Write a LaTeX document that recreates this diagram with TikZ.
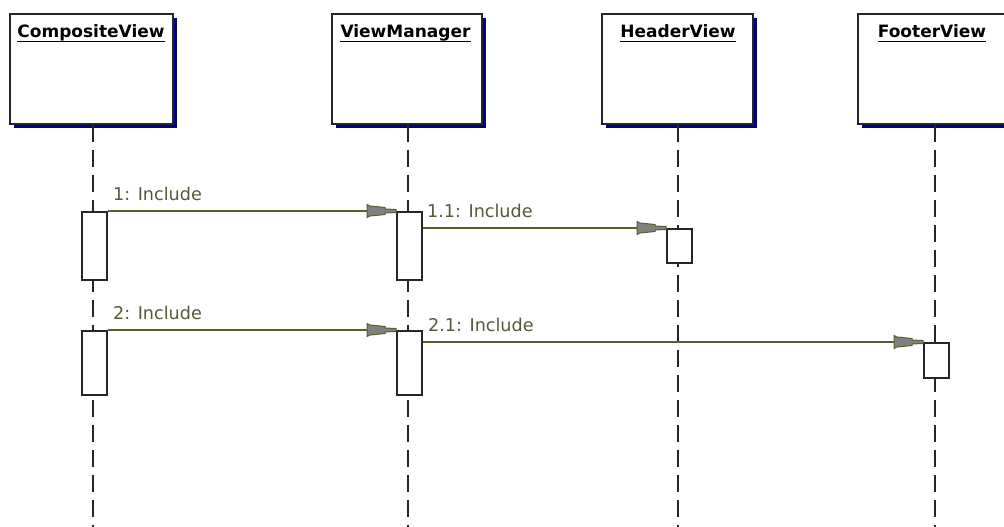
\documentclass[tikz,border=0pt]{standalone}
\usepackage{fontspec}
\setmainfont{DejaVu Sans}
\usetikzlibrary{calc}
\definecolor{msgline}{RGB}{92,92,48}
\definecolor{msgtext}{RGB}{88,88,56}
\definecolor{shadowc}{RGB}{0,0,128}
\definecolor{headfill}{RGB}{128,128,128}
\tikzset{
  objbox/.style={draw=black!85, line width=1.6pt, fill=white, inner sep=0pt, anchor=north west},
  objshadow/.style={fill=shadowc, draw=none},
  objtitle/.style={inner sep=0pt, anchor=base, font=\bfseries\fontsize{17}{20}\selectfont},
  lifeline/.style={draw=black!85, line width=1.5pt, dash pattern=on 17pt off 8pt},
  actbox/.style={draw=black!85, line width=1.6pt, fill=white, inner sep=0pt, anchor=north west, minimum width=25pt},
  msg/.style={draw=msgline, line width=1.3pt},
  msglabel/.style={text=msgtext, inner sep=0pt, anchor=base west, font=\fontsize{17.6}{20}\selectfont},
  pics/headtip/.style={code={
    \filldraw[fill=headfill, draw=msgline, line width=1pt, line join=miter]
      (-29,-6.5) -- (-26,-5) -- (-11,-3.5) -- (-11,-2) -- (0,-1.5) -- (0,1.5) -- (-11,2) -- (-11,3.5) -- (-26,5) -- (-29,6.5) -- cycle;
  }}
}
\begin{document}
\begin{tikzpicture}[x=1pt,y=-1pt]
\useasboundingbox (0,0) rectangle (1004,527);
\clip (0,0) rectangle (1004,527);
% shadows
\fill[objshadow] (14,18) rectangle (177,128);
\fill[objshadow] (336,18) rectangle (486,128);
\fill[objshadow] (606,18) rectangle (757,128);
\fill[objshadow] (862,18) rectangle (1015,128);
% object boxes
\node[objbox, minimum width=163pt, minimum height=110pt] (cv) at (9,13) {};
\node[objbox, minimum width=150pt, minimum height=110pt] (vm) at (331,13) {};
\node[objbox, minimum width=151pt, minimum height=110pt] (hv) at (601,13) {};
\node[objbox, minimum width=153pt, minimum height=110pt] (fv) at (857,13) {};
% titles
\node[objtitle] (tcv) at (91,38) {CompositeView\ };
\node[objtitle] (tvm) at (405.5,38) {ViewManager\ };
\node[objtitle] (thv) at (678,38) {HeaderView\ };
\node[objtitle] (tfv) at (932,38) {FooterView\ };
\foreach \t in {tcv,tvm,thv,tfv}{
  \draw[black, line width=1.4pt] ($(\t.base west)+(0,3.5)$) -- ($(\t.base east)+(0,3.5)$);
}
% lifelines
\coordinate (e1) at (93,530);
\coordinate (e2) at (408,530);
\coordinate (e3) at (678,530);
\coordinate (e4) at (935,530);
\draw[lifeline] (e1 |- cv.south) -- (e1);
\draw[lifeline] (e2 |- vm.south) -- (e2);
\draw[lifeline] (e3 |- hv.south) -- (e3);
\draw[lifeline] (e4 |- fv.south) -- (e4);
% activations
\node[actbox, minimum height=68pt] (a1) at (81,211) {};
\node[actbox, minimum height=64pt] (a2) at (81,330) {};
\node[actbox, minimum height=68pt] (v1) at (396,211) {};
\node[actbox, minimum height=64pt] (v2) at (396,330) {};
\node[actbox, minimum height=34pt] (h1) at (666,228) {};
\node[actbox, minimum height=35pt] (f1) at (923,342) {};
% messages
\draw[msg] (a1.north east) -- (v1.north west);
\pic at (v1.north west) {headtip};
\node[msglabel] (l1) at (113,200) {1: Include};
\draw[msg] (v1.east |- h1.north) -- (h1.north west);
\pic at (h1.north west) {headtip};
\node[msglabel] (l11) at (427,217) {1.1: Include};
\draw[msg] (a2.north east) -- (v2.north west);
\pic at (v2.north west) {headtip};
\node[msglabel] (l2) at (113,319) {2: Include};
\draw[msg] (v2.east |- f1.north) -- (f1.north west);
\pic at (f1.north west) {headtip};
\node[msglabel] (l21) at (428,331) {2.1: Include};
\end{tikzpicture}
\end{document}
